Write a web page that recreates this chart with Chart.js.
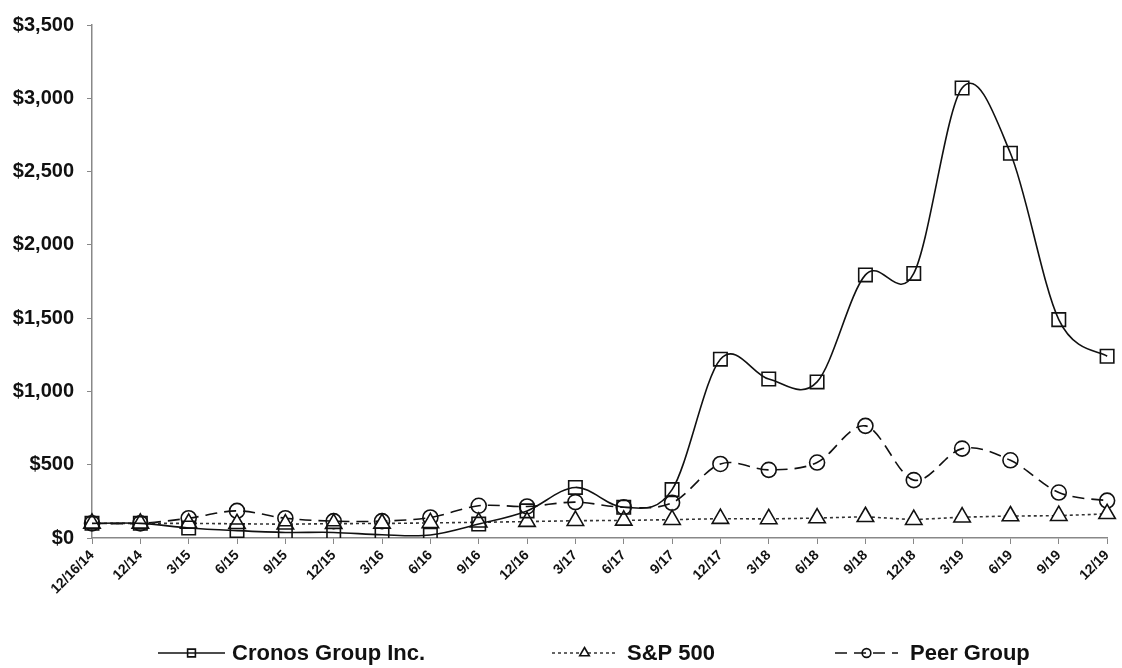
<!DOCTYPE html>
<html>
<head>
<meta charset="utf-8">
<script src="https://cdn.jsdelivr.net/npm/chart.js@4.4.1/dist/chart.umd.min.js"></script>
<style>
  html, body { margin: 0; background: #fff; }
  #wrap { position: relative; width: 1122px; height: 668px; }
</style>
</head>
<body>
<div id="wrap"><canvas id="chart"></canvas></div>
<script>
// ====== Data ======
const periods = ['12/16/14', '12/14', '3/15', '6/15', '9/15', '12/15', '3/16', '6/16', '9/16', '12/16',
  '3/17', '6/17', '9/17', '12/17', '3/18', '6/18', '9/18', '12/18', '3/19', '6/19', '9/19', '12/19'];
const cronos = [100, 100, 68, 50, 38, 38, 22, 20, 95, 185, 345, 210, 330, 1220, 1085, 1065, 1795, 1805, 3070, 2625, 1490, 1240];
const sp500 = [100, 100, 100, 97, 94, 98, 99, 103, 107, 112, 118, 120, 125, 132, 130, 136, 145, 125, 142, 150, 152, 165];
const peers = [100, 100, 135, 185, 135, 115, 115, 140, 220, 215, 245, 210, 240, 505, 465, 515, 765, 395, 610, 530, 310, 255];
const yTicks = [0, 500, 1000, 1500, 2000, 2500, 3000, 3500];

// ====== Legend layout: [line start x, line length, text x] ======
const legendSpots = [[158, 67, 232], [552, 65, 627], [835, 63, 910]];
const legendY = 653;

const bottomLegend = {
  id: 'bottomLegend',
  afterDraw(chart) {
    const ctx = chart.ctx;
    chart.data.datasets.forEach((ds, i) => {
      const [x0, len, tx] = legendSpots[i];
      ctx.save();
      ctx.strokeStyle = ds.borderColor;
      ctx.lineWidth = ds.borderWidth;
      ctx.setLineDash(ds.borderDash || []);
      ctx.beginPath();
      ctx.moveTo(x0, legendY);
      ctx.lineTo(x0 + len, legendY);
      ctx.stroke();
      ctx.setLineDash([]);
      ctx.fillStyle = ds.pointBackgroundColor;
      ctx.strokeStyle = ds.pointBorderColor;
      ctx.lineWidth = ds.pointBorderWidth;
      Chart.helpers.drawPoint(ctx, { pointStyle: ds.pointStyle, radius: ds.pointRadius * 0.58, borderWidth: ds.pointBorderWidth, rotation: 0 }, x0 + len / 2, legendY);
      ctx.fillStyle = '#111';
      ctx.font = 'bold 22px "Liberation Sans", Arial, sans-serif';
      ctx.textBaseline = 'middle';
      ctx.fillText(ds.label, tx, legendY + 1);
      ctx.restore();
    });
  }
};

// Excel-like smoothing: even Catmull-Rom control points (no distance weighting)
const evenSpline = {
  id: 'evenSpline',
  beforeDatasetDraw(chart, args) {
    const ds = chart.data.datasets[args.index];
    if (!ds.smooth) return;
    const meta = args.meta;
    const pts = meta.data;
    meta.dataset.updateControlPoints(chart.chartArea, meta.indexAxis);
    for (let i = 0; i < pts.length; i++) {
      const prev = pts[Math.max(i - 1, 0)], next = pts[Math.min(i + 1, pts.length - 1)], cur = pts[i];
      const dx = (next.x - prev.x) * ds.smooth, dy = (next.y - prev.y) * ds.smooth;
      cur.cp1x = cur.x - dx; cur.cp1y = cur.y - dy;
      cur.cp2x = cur.x + dx; cur.cp2y = cur.y + dy;
    }
  }
};

// ====== Chart ======
const ctx = document.getElementById('chart').getContext('2d');
const chart = new Chart(ctx, {
  type: 'line',
  data: {
    labels: periods,
    datasets: [{
      label: 'Cronos Group Inc.',
      data: cronos,
      borderColor: '#111',
      borderWidth: 1.6,
      tension: 0.4,
      smooth: 1 / 6,
      pointStyle: 'rect',
      pointRadius: 9.5,
      pointBorderWidth: 1.6,
      pointBorderColor: '#111',
      pointBackgroundColor: 'rgba(255,255,255,0)'
    }, {
      label: 'S&P 500',
      data: sp500,
      borderColor: '#333',
      borderWidth: 1.6,
      borderDash: [3, 3],
      tension: 0,
      pointStyle: 'triangle',
      pointRadius: 9.5,
      pointBorderWidth: 1.6,
      pointBorderColor: '#111',
      pointBackgroundColor: '#fff'
    }, {
      label: 'Peer Group',
      data: peers,
      borderColor: '#111',
      borderWidth: 1.6,
      borderDash: [12, 7],
      tension: 0.4,
      smooth: 1 / 6,
      pointStyle: 'circle',
      pointRadius: 7.5,
      pointBorderWidth: 1.6,
      pointBorderColor: '#111',
      pointBackgroundColor: 'rgba(255,255,255,0)'
    }]
  },
  options: {
    responsive: true,
    maintainAspectRatio: false,
    animation: false,
    layout: { padding: { top: 24, right: 9, left: 0, bottom: 0 } },
    plugins: {
      legend: { display: false },
      tooltip: { enabled: false }
    },
    scales: {
      x: {
        offset: false,
        grid: { drawOnChartArea: false, drawTicks: true, tickLength: 6, color: '#888' },
        border: { color: '#888', width: 1.5 },
        ticks: {
          autoSkip: false,
          maxRotation: 45,
          minRotation: 45,
          color: '#111',
          font: { family: '"Liberation Sans", Arial, sans-serif', size: 14, weight: 'bold' }
        },
        afterFit: (s) => { s.height = 130; }
      },
      y: {
        min: 0,
        max: 3500,
        grid: { drawOnChartArea: false, drawTicks: true, tickLength: 5, color: '#888' },
        border: { color: '#888', width: 1.5 },
        afterBuildTicks: (s) => { s.ticks = yTicks.map(v => ({ value: v })); },
        ticks: {
          color: '#111',
          padding: 13,
          font: { family: '"Liberation Sans", Arial, sans-serif', size: 20, weight: 'bold' },
          callback: (v) => '$' + v.toLocaleString('en-US')
        },
        afterFit: (s) => { s.width = 92; }
      }
    }
  },
  plugins: [evenSpline, bottomLegend]
});
</script>
</body>
</html>
